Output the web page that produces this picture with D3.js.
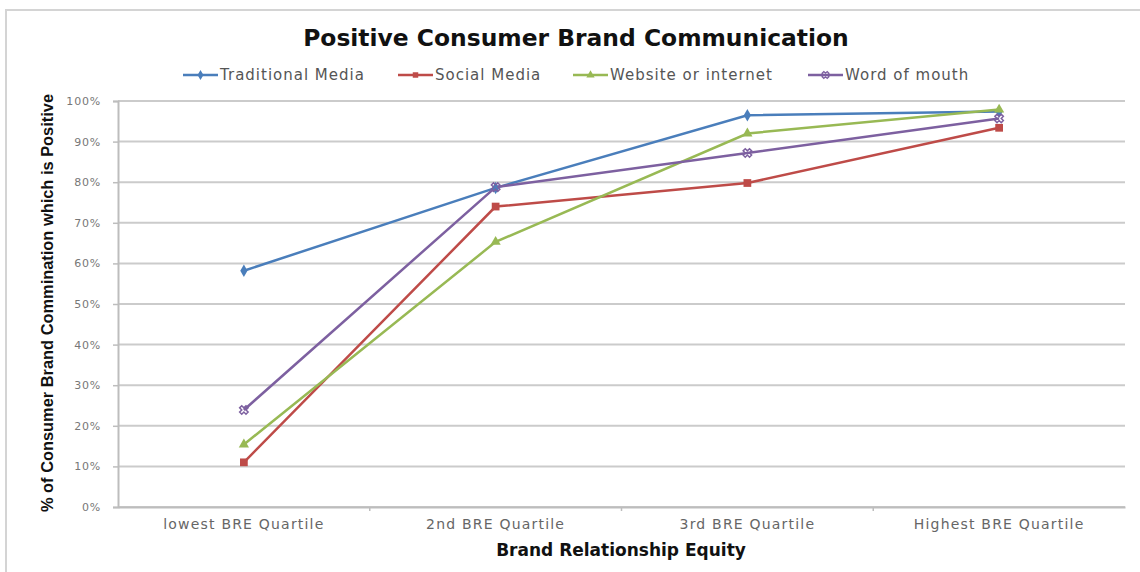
<!DOCTYPE html>
<html>
<head>
<meta charset="utf-8">
<script src="https://cdn.jsdelivr.net/npm/d3@7"></script>
<style>
  body { margin: 0; background: #fff; }
  svg { display: block; }
</style>
</head>
<body>
<svg width="1140" height="572"></svg>
<script>
// data
const categories = ["lowest BRE Quartile", "2nd BRE Quartile", "3rd BRE Quartile", "Highest BRE Quartile"];
const seriesNames = ["Traditional Media", "Social Media", "Website or internet", "Word of mouth"];
const traditional = [58.2, 78.6, 96.5, 97.4];
const social = [11.0, 74.0, 79.8, 93.4];
const website = [15.4, 65.3, 92.0, 97.9];
const wordOfMouth = [23.9, 78.8, 87.2, 95.7];
const yTicks = [0, 10, 20, 30, 40, 50, 60, 70, 80, 90, 100];

const colors = ["#4a7ebb", "#be4b48", "#98b954", "#7d60a0"];
const symbols = [d3.symbolDiamond, d3.symbolSquare, d3.symbolTriangle, d3.symbolCross];

const series = seriesNames.map((name, i) => ({
  name: name,
  values: [traditional, social, website, wordOfMouth][i],
  color: colors[i],
  symbol: symbols[i]
}));

const svg = d3.select("svg");

// outer frame (top and left edge visible)
svg.append("path")
  .attr("d", "M6,572 L6,10 L1140,10")
  .attr("fill", "none")
  .attr("stroke", "#d4d4d4")
  .attr("stroke-width", 2);

const plot = { left: 118, right: 1125, top: 101, bottom: 507 };

const x = d3.scaleBand()
  .domain(categories)
  .range([plot.left, plot.right]);

const y = d3.scaleLinear()
  .domain([0, 100])
  .range([plot.bottom, plot.top]);

// gridlines
svg.append("g")
  .selectAll("line")
  .data(yTicks)
  .join("line")
  .attr("x1", plot.left)
  .attr("x2", plot.right)
  .attr("y1", d => y(d))
  .attr("y2", d => y(d))
  .attr("stroke", "#cbcbcb")
  .attr("stroke-width", 2);

// y axis
const yAxis = svg.append("g")
  .attr("transform", `translate(${plot.left},0)`)
  .call(d3.axisLeft(y).tickValues(yTicks).tickFormat(d => d + "%").tickSize(5).tickPadding(12));
yAxis.select(".domain").attr("stroke", "#bdbdbd").attr("stroke-width", 2);
yAxis.selectAll(".tick line").attr("stroke", "#bdbdbd").attr("stroke-width", 1.5);
yAxis.selectAll(".tick text")
  .attr("fill", "#777")
  .style("font-family", "'DejaVu Sans', sans-serif")
  .style("font-size", "11px")
  .style("letter-spacing", "0.8px");

// x axis
const xAxis = svg.append("g")
  .attr("transform", `translate(0,${plot.bottom})`)
  .call(d3.axisBottom(x).tickSize(0).tickPadding(12));
xAxis.select(".domain").attr("stroke", "#bdbdbd").attr("stroke-width", 2);
xAxis.selectAll(".tick text")
  .attr("fill", "#666")
  .style("font-family", "'DejaVu Sans', sans-serif")
  .style("font-size", "14px")
  .style("letter-spacing", "1.2px");

// category boundary ticks
svg.append("g")
  .selectAll("line")
  .data(categories.slice(1))
  .join("line")
  .attr("x1", d => x(d))
  .attr("x2", d => x(d))
  .attr("y1", plot.bottom)
  .attr("y2", plot.bottom + 4)
  .attr("stroke", "#bdbdbd")
  .attr("stroke-width", 1.5);

const cx = d => x(d) + x.bandwidth() / 2;

const line = d3.line()
  .x((d, i) => cx(categories[i]))
  .y(d => y(d));

// lines
svg.append("g")
  .selectAll("path")
  .data(series)
  .join("path")
  .attr("d", s => line(s.values))
  .attr("fill", "none")
  .attr("stroke", s => s.color)
  .attr("stroke-width", 2.5);

// markers
series.forEach(s => {
  const sym = d3.symbol().type(s.symbol).size(s.symbol === d3.symbolSquare ? 60 : 45);
  svg.append("g")
    .selectAll("path")
    .data(s.values)
    .join("path")
    .attr("d", sym)
    .attr("transform", (d, i) => `translate(${cx(categories[i])},${y(d)})` + (s.symbol === d3.symbolCross ? " rotate(45)" : ""))
    .attr("fill", s.symbol === d3.symbolCross ? "none" : s.color)
    .attr("stroke", s.color)
    .attr("stroke-width", s.symbol === d3.symbolCross ? 1.5 : 0);
});

// legend
const legendX = [183, 398, 573, 808];
const legend = svg.append("g");
series.forEach((s, i) => {
  const lg = legend.append("g").attr("transform", `translate(${legendX[i]},75)`);
  lg.append("line")
    .attr("x1", 0).attr("x2", 35)
    .attr("stroke", s.color).attr("stroke-width", 2.5);
  lg.append("path")
    .attr("d", d3.symbol().type(s.symbol).size(30))
    .attr("transform", "translate(17.5,0)" + (s.symbol === d3.symbolCross ? " rotate(45)" : ""))
    .attr("fill", s.symbol === d3.symbolCross ? "none" : s.color)
    .attr("stroke", s.color)
    .attr("stroke-width", s.symbol === d3.symbolCross ? 1.2 : 0);
  lg.append("text")
    .attr("x", 37)
    .attr("dy", "0.35em")
    .attr("fill", "#555")
    .style("font-family", "'DejaVu Sans', sans-serif")
    .style("font-size", "15px")
    .style("letter-spacing", "1px")
    .text(s.name);
});

// title
svg.append("text")
  .attr("x", 576)
  .attr("y", 46)
  .attr("text-anchor", "middle")
  .attr("fill", "#111")
  .style("font-family", "'DejaVu Sans', sans-serif")
  .style("font-weight", "bold")
  .style("font-size", "23.4px")
  .text("Positive Consumer Brand Communication");

// x axis title
svg.append("text")
  .attr("x", 621)
  .attr("y", 556)
  .attr("text-anchor", "middle")
  .attr("fill", "#111")
  .style("font-family", "'DejaVu Sans', sans-serif")
  .style("font-weight", "bold")
  .style("font-size", "17px")
  .text("Brand Relationship Equity");

// y axis title
svg.append("text")
  .attr("transform", "translate(53,303) rotate(-90)")
  .attr("text-anchor", "middle")
  .attr("fill", "#111")
  .style("font-family", "'Liberation Sans Narrow', 'Liberation Sans', Arial, sans-serif")
  .style("font-weight", "bold")
  .style("font-size", "16.4px")
  .text("% of Consumer Brand Commination which is Positive");
</script>
</body>
</html>
